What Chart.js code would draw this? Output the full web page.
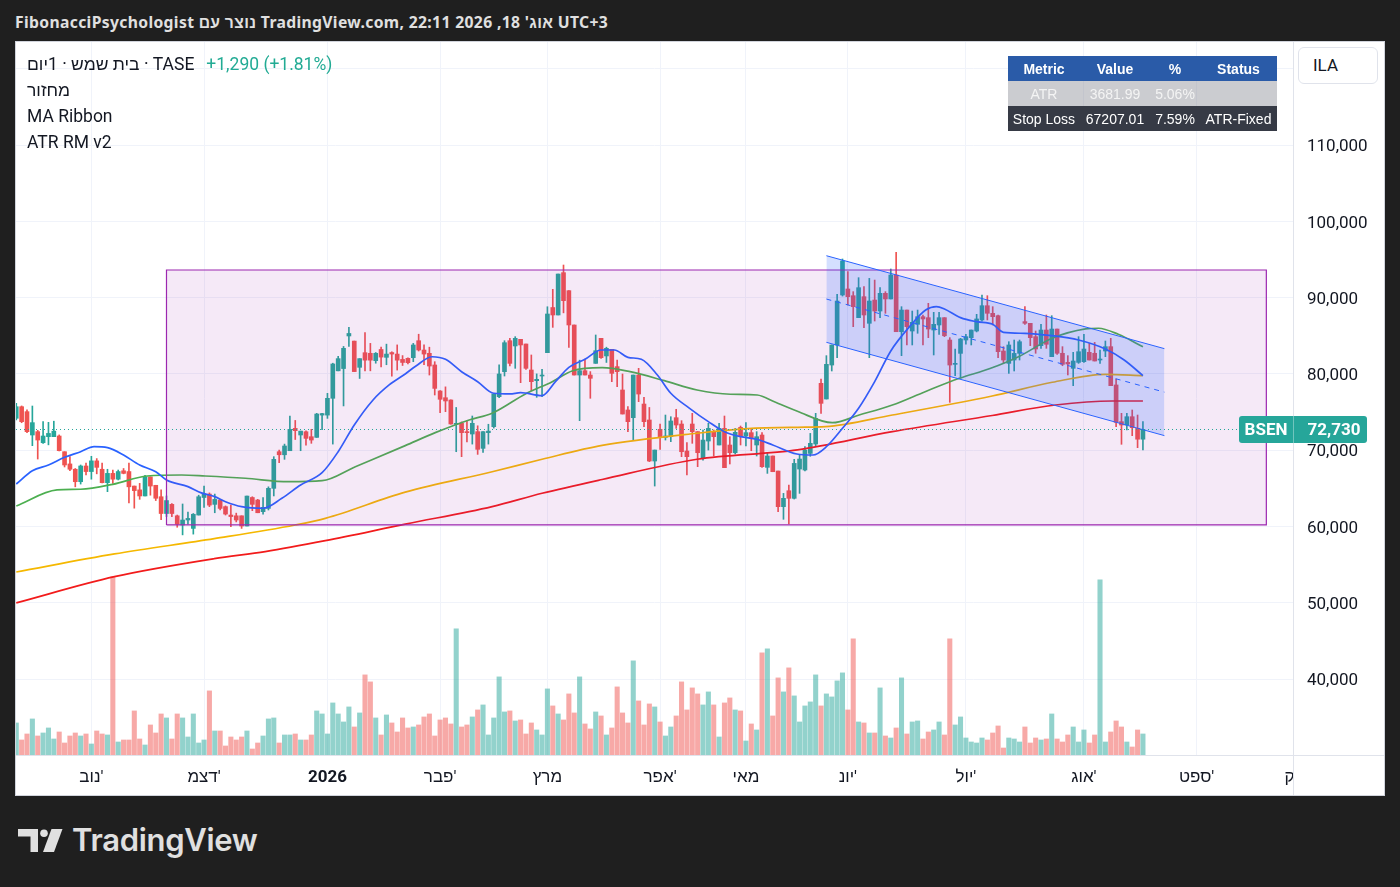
<!DOCTYPE html>
<html>
<head>
<meta charset="utf-8">
<script src="https://cdn.jsdelivr.net/npm/chart.js@4.4.1/dist/chart.umd.min.js"></script>
<style>
  body { margin: 0; width: 1400px; height: 887px; overflow: hidden; background: #1f1f1f; font-family: Roboto, "Noto Sans", sans-serif; }
  #title { position: absolute; left: 15px; top: 11px; color: #e0e0e0; font-family: "Noto Sans", Roboto, sans-serif; font-size: 15.7px; letter-spacing: 0.35px; font-weight: bold; white-space: nowrap; }
  #frame { position: absolute; left: 15px; top: 41px; width: 1370px; height: 755px; background: #d1d4dc; }
  #wrap { position: absolute; left: 16px; top: 42px; width: 1368px; height: 753px; background: #fff; }
  #legend { position: absolute; left: 27px; top: 51px; font-size: 17.5px; line-height: 26px; color: #131722; white-space: nowrap; }
  #legend .chg { color: #22ab94; margin-left: 12px; }
  #ila { position: absolute; left: 1298px; top: 47px; width: 78px; height: 35px; border: 1px solid #e0e3eb; border-radius: 6px; background: #fff; font-size: 17px; line-height: 35px; color: #131722; }
  #ila span { margin-left: 14px; }
  #tbl { position: absolute; left: 1008px; top: 56px; border-collapse: collapse; table-layout: fixed; width: 269px; font-family: "Liberation Sans", Arial, sans-serif; font-size: 14px; }
  #tbl td { height: 25px; padding: 0; text-align: center; white-space: nowrap; }
  #tbl tr.h td { background: #2a5ba8; color: #fff; font-weight: bold; }
  #tbl tr.g td { background: rgba(140, 142, 150, 0.45); color: #f4f4f4; }
  #tbl tr.d td { background: #363a45; color: #fff; }
  #logo { position: absolute; left: 18px; top: 829px; }
  #logotext { position: absolute; left: 72px; top: 821px; color: #e0e0e0; font-family: Inter, Roboto, sans-serif; font-size: 31px; font-weight: 600; letter-spacing: -0.3px; }
</style>
</head>
<body>
<div id="title">FibonacciPsychologist נוצר עם TradingView.com, אוג' 18, 2026 22:11 UTC+3</div>
<div id="frame"></div>
<div id="wrap"><canvas id="chart"></canvas></div>
<div id="legend">
  <div>בית שמש · 1יום · TASE<span class="chg">+1,290 (+1.81%)</span></div>
  <div>מחזור</div>
  <div>MA Ribbon</div>
  <div>ATR RM v2</div>
</div>
<div id="ila"><span>ILA</span></div>
<table id="tbl">
  <colgroup><col style="width:72px"><col style="width:70px"><col style="width:50px"><col style="width:77px"></colgroup>
  <tr class="h"><td>Metric</td><td>Value</td><td>%</td><td>Status</td></tr>
  <tr class="g"><td>ATR</td><td>3681.99</td><td>5.06%</td><td></td></tr>
  <tr class="d"><td>Stop Loss</td><td>67207.01</td><td>7.59%</td><td>ATR-Fixed</td></tr>
</table>
<svg id="logo" width="46" height="24" viewBox="0 0 46 24">
  <path d="M0 0 H20 V23 H12.5 V7.5 H0 Z" fill="#e0e0e0"/>
  <circle cx="26" cy="4.2" r="3.8" fill="#e0e0e0"/>
  <path d="M33.5 0 H44.5 L36 23 H25 Z" fill="#e0e0e0"/>
</svg>
<div id="logotext">TradingView</div>

<script>
// daily bars, BSEN (TASE), Oct 2025 - Aug 18 2026
const opens = [74180,75700,75050,71990,72430,70980,71770,71770,71860,69800,
  68200,67500,65870,67930,67200,68600,67500,65740,66960,66200,
  67300,67200,65300,64800,64000,66500,65400,63900,61700,62900,
  61400,60200,60850,59750,61500,63800,64250,62900,63470,62600,
  61500,61400,61400,60060,63800,63470,61940,62370,65000,69800,
  69400,69930,72860,71990,72420,71770,71680,74600,74600,76800,
  80400,80700,84970,84300,80860,82780,82700,81730,83200,82170,
  82800,82600,81900,82040,82130,84350,83130,82700,81170,77760,
  76880,76580,73390,73520,72430,72120,72430,70240,72300,73080,
  77010,80290,84350,83660,84530,83920,80510,79110,79720,82780,
  88700,87720,93270,90910,86410,79850,80420,79850,81380,84660,
  82350,83220,80950,77890,75270,74260,79850,76050,73960,68580,
  72740,71680,71770,74260,73430,69890,73430,72430,68930,71200,
  72430,70680,72860,70680,69670,72990,71860,72300,70680,71990,
  67750,69240,67270,62600,64690,63690,67530,67400,69580,70810,
  78760,76710,81160,83790,90340,91130,90250,87370,90120,86630,
  89680,88240,90560,89820,92960,85530,88370,85620,86500,87500,
  87370,85750,86410,87370,84440,81250,82690,84440,84750,85620,
  87070,88940,87940,87630,83000,81380,81820,82690,86850,86630,
  84880,83700,85750,82260,85880,82700,81510,80730,81510,81600,
  82830,82700,81820,83000,83570,78550,73740,73300,74390,72860,
  71440];
const highs = [76140,75800,75300,75790,72600,73740,73650,73800,72000,69800,
  69150,67600,68060,68300,69200,68900,68300,67500,67400,67400,
  67600,68300,65300,65650,66700,66500,65400,64800,64000,63000,
  61500,62950,61900,61700,64100,65300,64400,64250,63550,62700,
  62800,61750,61400,63990,63900,63560,63800,65200,69150,70000,
  70800,74480,73900,72500,72550,72740,74830,74830,77450,81400,
  82300,83600,86100,84300,82000,85400,84000,82800,83500,83900,
  82900,83800,82400,82100,84000,85200,83800,83500,81600,77800,
  78300,76600,75600,73700,73870,74480,73200,72430,73400,77360,
  81200,84350,84660,84880,84530,83920,82480,80000,80600,88800,
  91080,93090,94270,90910,86410,81800,81950,80300,85100,84660,
  83500,83220,81800,79990,75700,79850,80730,76930,75600,70020,
  73430,74610,74390,75360,73870,70990,74830,72430,72650,73520,
  72650,73520,74480,71770,72860,73170,73610,72730,72430,72300,
  69670,69240,67270,64340,65440,68800,69450,70460,72200,74830,
  79330,82390,83790,90430,95060,93400,90780,92610,91430,92520,
  92300,91300,90780,93750,95930,88810,88370,88240,88370,87700,
  89250,88070,88070,87370,84750,83260,84660,85180,85750,87810,
  90340,90250,88810,87700,83570,84220,84440,84440,88810,86630,
  85620,86500,87720,87630,85880,83570,82390,82830,84880,85180,
  84000,84130,83130,84310,84660,79330,74830,74830,75270,74610,
  73740];
const lows = [73960,73600,72300,70590,68840,70900,70700,71770,69900,67800,
  67300,65200,65560,66750,66200,66900,65700,64560,65650,66100,
  66900,63100,62400,63560,64000,64100,63400,60900,61300,61300,
  59900,58900,60300,59000,61500,62500,62600,61800,62160,61500,
  59970,60600,59750,60060,62070,61800,61600,62160,64000,68360,
  68800,69930,71400,69930,70670,70900,71680,72700,74170,70800,
  80400,75800,83600,80300,79400,80400,80400,81400,80900,81200,
  79700,80500,81100,81300,81600,83000,81200,79850,77230,74920,
  75050,73400,69800,69150,71100,70800,69450,69700,70800,72900,
  76900,79720,81030,80730,78850,80600,77800,76930,77000,82780,
  86100,87720,88000,83480,79850,73870,79850,76800,81380,82040,
  81500,78980,78330,74740,72430,71330,76360,73080,68500,65300,
  70110,71330,71120,72860,69150,66750,70900,67840,68700,70020,
  69240,70680,67710,68190,69500,70680,70550,69930,69240,67750,
  66960,67180,61940,60940,60330,63600,64340,67270,69200,70460,
  74830,76710,80380,82130,90200,89030,86190,87370,86060,82130,
  86930,87370,87940,89820,85530,82390,83790,83790,85320,83790,
  84750,82480,85180,84880,76270,79770,79420,83880,83790,85500,
  86900,87070,86410,82130,81380,80070,80380,81820,86500,83700,
  82700,83350,83350,82260,82560,81070,79860,78460,81380,81500,
  81820,81690,81380,82260,78460,73080,70770,72650,71900,70330,
  70020];
const closes = [75700,73740,72430,73610,71330,71860,72200,72500,69940,68060,
  67500,65870,67930,67200,68600,67750,65740,66960,66200,67200,
  66960,65200,64700,64000,66500,65300,63700,61700,63400,61700,
  60300,60850,61060,61600,63900,64250,62800,63550,62370,61630,
  61300,60850,60060,63990,62900,61800,62500,65000,68800,69400,
  70550,72730,72560,72500,71550,71330,74740,74800,76800,81300,
  82000,83350,85300,80300,82000,81800,81800,82700,82200,82600,
  82600,81800,81500,81470,83790,83130,82600,81030,78100,76670,
  76450,73430,73520,72300,72300,73520,70110,72430,72500,77360,
  79990,84090,81380,84660,83790,80730,78980,79290,79850,87850,
  87720,93090,89600,86410,79850,80420,79850,79420,83040,82130,
  83350,80070,80290,74740,73740,79850,77360,73740,68580,70020,
  71770,71860,73830,73300,69800,69150,72430,69670,71330,72860,
  71770,72860,67710,69670,72340,71770,72300,71550,71770,67840,
  69240,67180,62600,63690,63690,68270,68840,70020,70900,74170,
  76140,81250,83790,89550,94800,90120,88810,91300,87720,89550,
  88240,90560,89820,92960,85530,88370,86190,86760,87500,87200,
  85880,86500,87370,85000,81160,81380,84570,84880,85750,87200,
  88940,87940,87500,82910,81820,83790,82690,84220,86630,84750,
  83260,85750,83880,85880,82700,81250,81300,81690,82910,83260,
  81820,81690,81950,83570,78460,73650,73300,74390,72950,71440,
  72730];
// volume, thousands of shares
const volumes = [32,15,21,36,19,22,27,16,23,12,
  19,22,19,21,11,24,21,20,178,13,
  15,15,44,16,10,30,22,41,37,16,
  41,37,18,41,12,15,64,24,24,9,
  18,15,18,24,6,12,19,36,37,12,
  20,20,21,15,15,20,44,41,21,52,
  41,33,48,28,42,80,73,37,20,40,
  32,23,37,27,28,30,38,41,19,35,
  37,31,126,28,30,38,45,50,20,37,
  78,43,44,34,35,21,32,25,20,66,
  49,41,35,61,42,78,31,26,43,39,
  20,27,68,42,32,94,54,30,51,48,
  33,19,28,39,73,45,67,61,50,63,
  50,18,52,57,45,44,14,31,25,102,
  106,39,77,63,87,59,33,49,53,80,
  49,61,58,74,82,45,116,33,32,22,
  22,67,19,17,27,77,21,33,34,16,
  23,25,33,20,116,30,38,17,13,12,
  17,15,22,29,7,17,16,13,28,12,
  17,15,16,41,16,13,20,28,13,25,
  12,20,175,13,23,34,28,13,8,25,
  21];

// MA Ribbon, [bar, value]
const ma20 = [[1,65570],[4,67310],[7,68060],[10,69070],[13,69800],[15.5,70460],[18,70330],[21,69370],[24,68060],[27,67180],
  [29,66090],[33,65220],[35.5,64400],[38,63910],[40,63250],[43,62600],[47,62390],[50.5,63700],[54,65440],[58,67050],
  [61,69800],[64,73300],[67.5,76580],[70.5,78550],[73.5,79990],[75.5,81040],[78.5,82250],[81,81910],[84,80290],[87,78980],
  [90,77460],[93,77370],[95,77540],[99,77150],[101.5,78980],[104,80860],[107,81910],[110,83130],[112.5,83130],[115,82170],
  [117.5,81910],[120.5,79860],[123,77460],[126.5,75490],[130,73740],[133,72430],[136,71770],[139,71430],[142,70680],[146.5,69500],
  [149.5,69370],[152,70460],[155,72870],[158,75490],[161,78980],[164,83000],[167.5,86190],[170.5,88370],[172.5,88810],[174,88510],
  [177,87370],[180,86840],[183,86500],[185,85450],[189,85320],[194,85010],[199,84440],[204,83260],[207.5,81820],[211,79770]];
const ma50 = [[1,62690],[8.6,64790],[13,64880],[19,65530],[25.4,66620],[31.8,66750],[36.2,66620],[43.7,66320],[51.7,65870],[58,66000],
  [64.2,67840],[73.5,70600],[79.1,72300],[85.4,73960],[89.7,74840],[95.9,77370],[100.9,78980],[104.6,80380],[110.2,80810],[115.4,80290],
  [121.8,79110],[127.9,77890],[134.1,77330],[139.1,77235],[142.3,76360],[146.6,75100],[153.1,73600],[158.1,74610],[164.3,75920],[170.4,77670],
  [176.8,79420],[182.5,80700],[187.8,82250],[194.1,84670],[200.3,85890],[202.7,85980],[206.4,85190],[211,83560]];
const ma100 = [[1,54040],[19.3,56400],[37.9,58400],[53,60200],[58.6,61070],[73.5,64500],[89.7,67180],[99,68810],[110.2,70620],
  [127.9,72220],[137.3,72820],[146.6,73000],[151.8,73080],[164.3,74610],[182.9,77100],[194.1,78900],[204,79950],[211,79770]];
const ma200 = [[1,49980],[19.3,53420],[37.9,55780],[47.4,56700],[58.6,58140],[73.5,60310],[89.7,62600],[99,64350],
  [110.2,66160],[127.9,68810],[146.6,70030],[164.3,72430],[182.9,74550],[194.7,75920],[205.3,76450],[211,76450]];

// drawings: rectangle and parallel channel, [bar, price]
const boxBars = [29, 234];
const boxPrices = [60200, 93620];
const chanUpper = [[152, 95490], [215, 83308]];
const chanLower = [[152, 84138], [215, 71910]];
const chanMid = [[152, 89814], [215, 77609]];

// time axis: first bar of each month (last one falls just past the visible range)
const monthTickIdx = [15, 36, 59, 80, 100, 121, 137, 156, 178, 200, 221, 240];
const monthLabels = ["נוב'", "דצמ'", "2026", "פבר'", "מרץ", "אפר'", "מאי", "יונ'", "יול'", "אוג'", "ספט'", "אוק'"];
// price axis
const priceTicks = [40000, 50000, 60000, 70000, 80000, 90000, 100000, 110000, 120000];

const symbol = 'BSEN';
const UP = '#26a69a', DOWN = '#ef5350';
const X_MAX = 238.97;

const barIdx = closes.map((_, i) => i + 1);
const isUp = barIdx.map((_, i) => closes[i] >= opens[i]);
const bodyData = barIdx.map((x, i) => ({ x, y: [opens[i], closes[i]] }));
const wickData = barIdx.map((x, i) => ({ x, y: [lows[i], highs[i]] }));
const volData = barIdx.map((x, i) => ({ x, y: volumes[i] }));
const candleColors = isUp.map(u => u ? UP : DOWN);
const volColors = isUp.map(u => u ? 'rgba(38,166,154,0.5)' : 'rgba(239,83,80,0.5)');
const pts = arr => arr.map(([x, y]) => ({ x, y }));

function maLine(data, color, order) {
  return { type: 'line', data: pts(data), borderColor: color, borderWidth: 1.7, pointRadius: 0,
    fill: false, cubicInterpolationMode: 'monotone', yAxisID: 'y', order };
}

Chart.defaults.font.family = 'Roboto, "Noto Sans", sans-serif';
Chart.defaults.color = '#131722';

const overlay = {
  id: 'overlay',
  afterDraw(chart) {
    const { ctx, chartArea: a, scales: { y } } = chart;
    const last = closes[closes.length - 1];
    const py = Math.round(y.getPixelForValue(last)) + 0.5;
    ctx.save();
    // the price scale corner hides the label that runs past the time range
    ctx.fillStyle = '#fff';
    ctx.fillRect(a.right, a.bottom, chart.width - a.right, chart.height - a.bottom);
    // pane separators
    ctx.strokeStyle = '#e0e3eb';
    ctx.lineWidth = 1;
    ctx.beginPath();
    ctx.moveTo(0, a.bottom + 0.5); ctx.lineTo(chart.width, a.bottom + 0.5);
    ctx.moveTo(a.right + 0.5, 0); ctx.lineTo(a.right + 0.5, chart.height);
    ctx.stroke();
    // last price line
    ctx.strokeStyle = UP;
    ctx.setLineDash([1, 3]);
    ctx.beginPath(); ctx.moveTo(a.left, py); ctx.lineTo(a.right - 54, py); ctx.stroke();
    ctx.setLineDash([]);
    // last price label
    const lx = a.right - 54, lw = 128, lh = 27, ly = py - lh / 2, r = 3;
    ctx.fillStyle = UP;
    ctx.beginPath();
    ctx.moveTo(lx + r, ly); ctx.lineTo(lx + lw - r, ly); ctx.quadraticCurveTo(lx + lw, ly, lx + lw, ly + r);
    ctx.lineTo(lx + lw, ly + lh - r); ctx.quadraticCurveTo(lx + lw, ly + lh, lx + lw - r, ly + lh);
    ctx.lineTo(lx + r, ly + lh); ctx.quadraticCurveTo(lx, ly + lh, lx, ly + lh - r);
    ctx.lineTo(lx, ly + r); ctx.quadraticCurveTo(lx, ly, lx + r, ly);
    ctx.fill();
    ctx.strokeStyle = 'rgba(255,255,255,0.35)';
    ctx.beginPath(); ctx.moveTo(a.right + 0.5, ly); ctx.lineTo(a.right + 0.5, ly + lh); ctx.stroke();
    ctx.fillStyle = '#fff';
    ctx.font = 'bold 17px Roboto, "Noto Sans", sans-serif';
    ctx.textAlign = 'center';
    ctx.textBaseline = 'middle';
    ctx.fillText(symbol, a.right - 27, py + 1);
    ctx.fillText(last.toLocaleString('en-US'), a.right + 41, py + 1);
    ctx.restore();
  }
};

new Chart(document.getElementById('chart'), {
  type: 'bar',
  data: {
    datasets: [
      { type: 'bar', data: volData, backgroundColor: volColors, barThickness: 4.4, grouped: false, yAxisID: 'yv', order: 20 },
      { type: 'bar', data: wickData, backgroundColor: candleColors, barThickness: 1, grouped: false, yAxisID: 'y', order: 11 },
      { type: 'bar', data: bodyData, backgroundColor: candleColors, barThickness: 4, grouped: false, minBarLength: 1, yAxisID: 'y', order: 10 },
      maLine(ma200, '#f21b1b', 9),
      maLine(ma100, '#f5b800', 8),
      maLine(ma50, '#4caf50', 7),
      maLine(ma20, '#2962ff', 6),
      { type: 'line', data: [{ x: boxBars[0], y: boxPrices[1] }, { x: boxBars[1], y: boxPrices[1] }],
        borderWidth: 0, pointRadius: 0, fill: { value: boxPrices[0] }, backgroundColor: 'rgba(156,39,176,0.1)', yAxisID: 'y', order: 5 },
      { type: 'line', data: [{ x: boxBars[0], y: boxPrices[0] }, { x: boxBars[0], y: boxPrices[1] }, { x: boxBars[1], y: boxPrices[1] },
          { x: boxBars[1], y: boxPrices[0] }, { x: boxBars[0], y: boxPrices[0] }],
        borderColor: '#9c27b0', borderWidth: 1.2, pointRadius: 0, fill: false, yAxisID: 'y', order: 4 },
      { type: 'line', data: pts(chanUpper), borderColor: '#2962ff', borderWidth: 1, pointRadius: 0,
        fill: '+1', backgroundColor: 'rgba(41,98,255,0.2)', yAxisID: 'y', order: 3 },
      { type: 'line', data: pts(chanLower), borderColor: '#2962ff', borderWidth: 1, pointRadius: 0, fill: false, yAxisID: 'y', order: 2 },
      { type: 'line', data: pts(chanMid), borderColor: '#2962ff', borderWidth: 1, borderDash: [5, 5], pointRadius: 0, fill: false, yAxisID: 'y', order: 1 }
    ]
  },
  options: {
    responsive: true,
    maintainAspectRatio: false,
    animation: false,
    events: [],
    layout: { padding: 0 },
    plugins: { legend: { display: false }, tooltip: { enabled: false } },
    scales: {
      x: {
        type: 'linear', min: 0.95, max: X_MAX, offset: false,
        grid: { drawTicks: false, offset: false,
          color: c => (c.tick && c.tick.value > X_MAX) ? 'rgba(0,0,0,0)' : '#f0f3fa' },
        border: { display: false },
        afterBuildTicks: s => { s.ticks = monthTickIdx.map(v => ({ value: v })); },
        afterFit: s => { s.height = 40; s.paddingLeft = 0; s.paddingRight = 0; },
        ticks: {
          autoSkip: false, maxRotation: 0, padding: 13, color: '#131722',
          font: c => ({ size: 17, weight: (c.tick && c.tick.value === monthTickIdx[2]) ? 'bold' : 'normal' }),
          callback: v => monthLabels[monthTickIdx.indexOf(v)] || ''
        }
      },
      y: {
        type: 'linear', position: 'right', min: 30050, max: 123500,
        grid: { color: '#f0f3fa', drawTicks: false },
        border: { display: false },
        afterBuildTicks: s => { s.ticks = priceTicks.map(v => ({ value: v })); },
        afterFit: s => { s.width = 91; s.paddingTop = 0; s.paddingBottom = 0; },
        ticks: { autoSkip: false, padding: 14, labelOffset: 2, color: '#131722', font: { size: 17 },
          callback: v => v.toLocaleString('en-US') }
      },
      yv: { display: false, min: 0, max: Math.max(...volumes) * 4 }
    }
  },
  plugins: [overlay]
});
</script>
</body>
</html>
